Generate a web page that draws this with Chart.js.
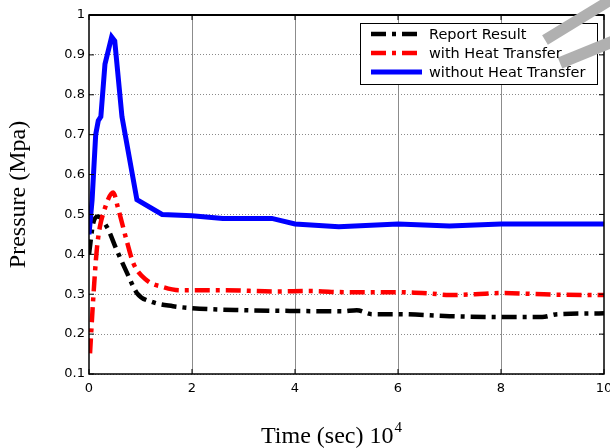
<!DOCTYPE html>
<html>
<head>
<meta charset="utf-8">
<script src="https://cdn.jsdelivr.net/npm/chart.js@4.4.0/dist/chart.umd.min.js"></script>
<style>
  html, body { margin: 0; padding: 0; background: #fff; }
  #wrap { width: 610px; height: 448px; }
</style>
</head>
<body>
<div id="wrap"><canvas id="chart" width="610" height="448"></canvas></div>
<script>
// Valeurs (temps en 10^4 s, pression en MPa)
const reportTime = [0, 0.08, 0.17, 0.35, 0.54, 0.74, 0.93, 1.24, 1.63, 2.0, 3.0, 4.0, 4.9, 5.2, 5.5, 6.0, 7.0, 8.0, 8.8, 9.1, 10];
const reportPressure = [0.4, 0.477, 0.495, 0.468, 0.41, 0.353, 0.303, 0.28, 0.27, 0.265, 0.26, 0.258, 0.257, 0.26, 0.25, 0.25, 0.245, 0.243, 0.243, 0.25, 0.252];

const heatTime = [0.02, 0.08, 0.15, 0.21, 0.27, 0.47, 0.56, 0.74, 0.86, 1.12, 1.44, 1.77, 2.6, 3.6, 4.3, 5.0, 6.0, 6.6, 7.0, 7.5, 8.0, 9.0, 10];
const heatPressure = [0.152, 0.285, 0.41, 0.468, 0.5, 0.555, 0.518, 0.43, 0.378, 0.335, 0.318, 0.31, 0.31, 0.307, 0.308, 0.305, 0.305, 0.302, 0.298, 0.3, 0.303, 0.299, 0.298];

const noHeatTime = [0, 0.06, 0.13, 0.18, 0.23, 0.31, 0.44, 0.5, 0.64, 0.93, 1.42, 2.0, 2.6, 3.55, 4.0, 4.85, 6.0, 7.0, 8.0, 10];
const noHeatPressure = [0.45, 0.536, 0.70, 0.735, 0.745, 0.877, 0.945, 0.935, 0.745, 0.537, 0.5, 0.497, 0.49, 0.49, 0.476, 0.469, 0.476, 0.471, 0.476, 0.476];

const seriesLabels = ['Report Result', 'with Heat Transfer', 'without Heat Transfer'];
const xTicks = [0, 2, 4, 6, 8, 10];
const yTicks = [0.1, 0.2, 0.3, 0.4, 0.5, 0.6, 0.7, 0.8, 0.9, 1];
const xTitle = 'Time (sec) 10';
const xTitleExp = '4';
const yTitle = 'Pressure (Mpa)';

function toPoints(xs, ys) {
    return xs.map((v, i) => ({ x: v, y: ys[i] }));
}

// Cadre + graduations vers l'intérieur (style MATLAB)
const framePlugin = {
    id: 'frame',
    afterDatasetsDraw(chart) {
        const { ctx, chartArea: a, scales: { x, y } } = chart;
        ctx.save();
        ctx.strokeStyle = '#000';
        ctx.lineWidth = 1.5;
        ctx.strokeRect(a.left, a.top, a.right - a.left, a.bottom - a.top);
        ctx.lineWidth = 2;
        ctx.beginPath(); ctx.moveTo(a.left, a.top); ctx.lineTo(a.right, a.top); ctx.stroke();
        ctx.lineWidth = 1;
        ctx.beginPath();
        xTicks.forEach(v => {
            const px = x.getPixelForValue(v);
            ctx.moveTo(px, a.bottom); ctx.lineTo(px, a.bottom - 5);
            ctx.moveTo(px, a.top); ctx.lineTo(px, a.top + 5);
        });
        yTicks.forEach(v => {
            const py = y.getPixelForValue(v);
            ctx.moveTo(a.left, py); ctx.lineTo(a.left + 5, py);
            ctx.moveTo(a.right, py); ctx.lineTo(a.right - 5, py);
        });
        ctx.stroke();
        ctx.restore();
    }
};

// Légende dans le coin haut droit, bandes grises, titre de l'axe X
const legendPlugin = {
    id: 'boxLegend',
    afterDraw(chart) {
        const { ctx, chartArea: a } = chart;
        const w = 237, h = 61;
        const left = a.right - 7 - w;
        const top = a.top + 8;

        ctx.save();
        ctx.fillStyle = '#fff';
        ctx.fillRect(left, top, w, h);
        ctx.strokeStyle = '#000';
        ctx.lineWidth = 1;
        ctx.strokeRect(left + 0.5, top + 0.5, w, h);

        // bandes grises en diagonale
        ctx.strokeStyle = '#b0b0b0';
        ctx.lineCap = 'butt';
        ctx.lineWidth = 11;
        ctx.beginPath(); ctx.moveTo(545, 40); ctx.lineTo(614, -2); ctx.stroke();
        ctx.lineWidth = 12;
        ctx.beginPath(); ctx.moveTo(560, 63); ctx.lineTo(614, 41); ctx.stroke();

        chart.data.datasets.forEach((ds, i) => {
            const yy = top + 11 + i * 19;
            ctx.strokeStyle = ds.borderColor;
            ctx.lineWidth = ds.borderWidth;
            ctx.setLineDash(ds.borderDash || []);
            ctx.beginPath();
            ctx.moveTo(left + 11, yy);
            ctx.lineTo(left + (ds.borderDash && ds.borderDash.length ? 57 : 62), yy);
            ctx.stroke();
            ctx.setLineDash([]);
            ctx.fillStyle = '#000';
            ctx.font = '14.5px "DejaVu Sans"';
            ctx.textBaseline = 'middle';
            ctx.textAlign = 'left';
            ctx.fillText(ds.label, left + 69, yy + 1);
        });

        // titre X avec exposant
        ctx.font = '24px "Liberation Serif"';
        const w1 = ctx.measureText(xTitle).width;
        ctx.font = '15px "Liberation Serif"';
        const w2 = ctx.measureText(xTitleExp).width;
        const x0 = 331 - (w1 + w2) / 2;
        ctx.textBaseline = 'alphabetic';
        ctx.fillStyle = '#000';
        ctx.font = '24px "Liberation Serif"';
        ctx.fillText(xTitle, x0, 443);
        ctx.font = '15px "Liberation Serif"';
        ctx.fillText(xTitleExp, x0 + w1 + 1, 432);
        ctx.restore();
    }
};

const ctx = document.getElementById('chart');

new Chart(ctx, {
    type: 'line',
    data: {
        datasets: [{
            label: seriesLabels[0],
            data: toPoints(reportTime, reportPressure),
            borderColor: '#000000',
            borderWidth: 4.5,
            borderDash: [15, 6, 4, 6],
            cubicInterpolationMode: 'monotone',
            pointRadius: 0,
            order: 2
        }, {
            label: seriesLabels[1],
            data: toPoints(heatTime, heatPressure),
            borderColor: '#ff0000',
            borderWidth: 4.5,
            borderDash: [15, 6, 4, 6],
            cubicInterpolationMode: 'monotone',
            pointRadius: 0,
            order: 1
        }, {
            label: seriesLabels[2],
            data: toPoints(noHeatTime, noHeatPressure),
            borderColor: '#0000ff',
            borderWidth: 5,
            tension: 0,
            pointRadius: 0,
            order: 0
        }]
    },
    options: {
        responsive: false,
        animation: false,
        devicePixelRatio: 1,
        layout: {
            padding: { top: 15, right: 6, left: 0, bottom: 0 }
        },
        plugins: {
            legend: { display: false },
            tooltip: { enabled: false }
        },
        scales: {
            x: {
                type: 'linear',
                min: 0,
                max: 10,
                afterBuildTicks: s => { s.ticks = xTicks.map(v => ({ value: v })); },
                afterFit: s => { s.height = 74; s.paddingLeft = 0; s.paddingRight = 0; },
                ticks: {
                    padding: 7,
                    color: '#000',
                    maxRotation: 0,
                    font: { family: 'DejaVu Sans', size: 13 },
                    callback: v => String(v)
                },
                grid: {
                    color: ctx => (ctx.tick && (ctx.tick.value === 0 || ctx.tick.value === 10)) ? 'rgba(0,0,0,0)' : '#8c8c8c',
                    lineWidth: 1,
                    drawTicks: false
                },
                border: { display: false }
            },
            y: {
                min: 0.1,
                max: 1,
                afterBuildTicks: s => { s.ticks = yTicks.map(v => ({ value: v })); },
                afterFit: s => { s.width = 89; s.paddingTop = 0; s.paddingBottom = 0; },
                ticks: {
                    padding: 4,
                    color: '#000',
                    font: { family: 'DejaVu Sans', size: 13 },
                    callback: v => String(+v.toFixed(1))
                },
                grid: {
                    color: '#8a8a8a',
                    lineWidth: 1,
                    drawTicks: false
                },
                border: { display: false, dash: [1, 2] },
                title: {
                    display: true,
                    text: yTitle,
                    color: '#000',
                    font: { family: 'Liberation Serif', size: 24, lineHeight: 1 },
                    padding: { top: 7, bottom: 0 }
                }
            }
        }
    },
    plugins: [framePlugin, legendPlugin]
});
</script>
</body>
</html>
